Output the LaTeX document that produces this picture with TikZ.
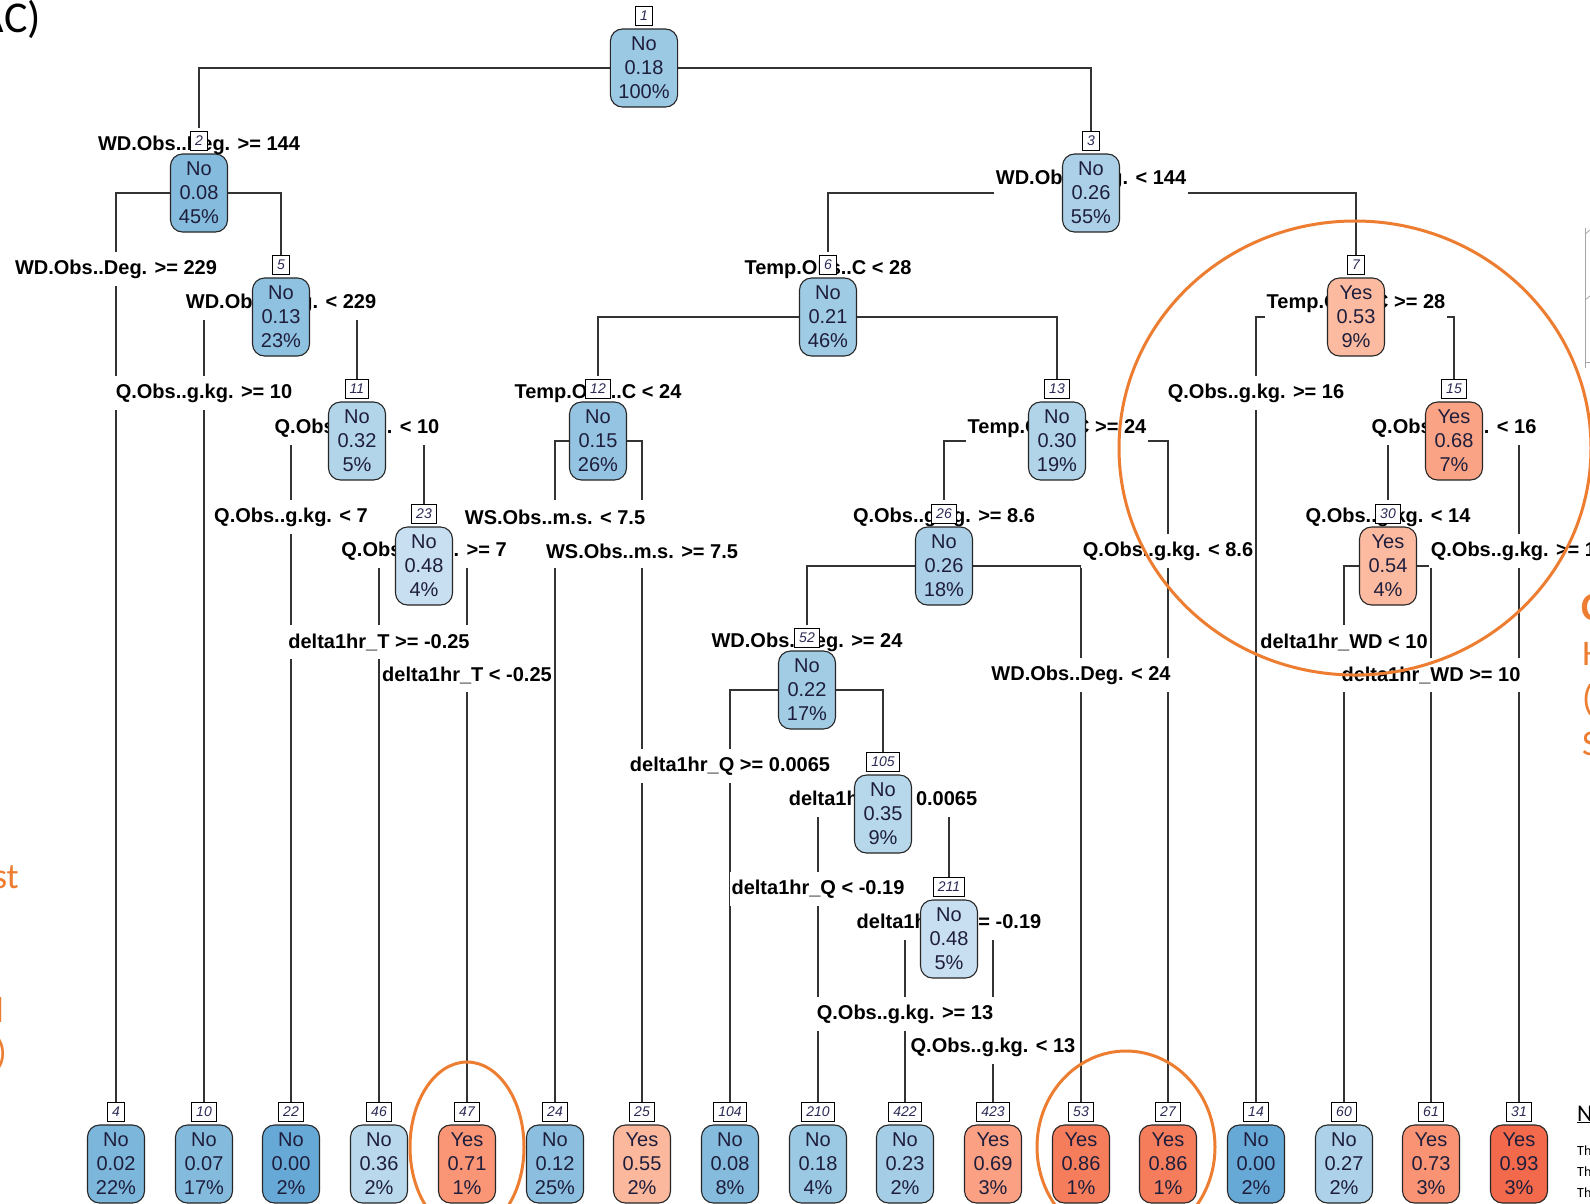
\documentclass[tikz,border=0pt]{standalone}
\usepackage{fontspec}
\setmainfont{Liberation Sans}
\newfontfamily\calib{Carlito}
\pgfdeclarelayer{bg}
\pgfdeclarelayer{edges}
\pgfdeclarelayer{labels}
\pgfdeclarelayer{top}
\pgfsetlayers{bg,edges,labels,main,top}

\definecolor{txt}{HTML}{1E1E3C}
\definecolor{numtxt}{HTML}{2A2A55}
\definecolor{ora}{HTML}{ED7D31}
\definecolor{lin}{HTML}{333333}
\definecolor{b00}{HTML}{67A9D6}
\definecolor{b02}{HTML}{7CB6DA}
\definecolor{b07}{HTML}{84BBDD}
\definecolor{b08}{HTML}{85BBDC}
\definecolor{b12}{HTML}{8CBFDF}
\definecolor{b13}{HTML}{8FC1E0}
\definecolor{b15}{HTML}{94C4E1}
\definecolor{b18}{HTML}{9BC8E2}
\definecolor{b21}{HTML}{A0CBE4}
\definecolor{b22}{HTML}{A2CCE4}
\definecolor{b23}{HTML}{A5CDE5}
\definecolor{b26}{HTML}{ABD0E7}
\definecolor{b27}{HTML}{ADD1E8}
\definecolor{b30}{HTML}{B1D4E9}
\definecolor{b32}{HTML}{B3D5E9}
\definecolor{b35}{HTML}{B7D7EB}
\definecolor{b36}{HTML}{B9D8EB}
\definecolor{b48}{HTML}{C8DFF1}
\definecolor{o53}{HTML}{FCBBA1}
\definecolor{o55}{HTML}{FBB89D}
\definecolor{o68}{HTML}{FBA385}
\definecolor{o69}{HTML}{FBA082}
\definecolor{o71}{HTML}{FA9676}
\definecolor{o73}{HTML}{FA9373}
\definecolor{o86}{HTML}{F57D5C}
\definecolor{o93}{HTML}{F2694B}

\tikzset{
 tbox/.style={draw=black!85, line width=1.1pt, rounded corners=12pt, minimum width=57pt, minimum height=78pt, inner xsep=8pt, inner ysep=0pt, align=center, text=txt, font=\fontsize{20}{24}\selectfont},
 numbox/.style={draw=black, fill=white, line width=0.9pt, minimum height=19pt, minimum width=17pt, inner xsep=4.5pt, inner ysep=0pt, text=numtxt, font=\fontsize{14}{14}\selectfont\itshape},
 slab/.style={fill=white, inner xsep=1.5pt, inner ysep=0pt, minimum height=34pt, text=black, font=\fontsize{20}{24}\selectfont\bfseries},
 conn/.style={draw=lin, line width=1.3pt},
 ring/.style={draw=ora, line width=3pt},
 frag/.style={inner sep=0pt, text=ora},
}

\newcommand\TN[7]{%
 \node[tbox,fill=#4] (n#1) at (#2,#3) {#5\\#6\\#7};
 \node[numbox,anchor=south] (tn#1) at ([yshift=3pt]n#1.north) {#1};}
\newcommand\SL[4]{\node[slab] (s#1) at (#2,#3+2) {#4};}

\begin{document}
\begin{tikzpicture}[x=1pt,y=-1pt]
\useasboundingbox (0,0) rectangle (1590,1203);
\begin{pgfonlayer}{bg}
\fill[white] (0,0) rectangle (1590,1203);
\end{pgfonlayer}

% internal nodes
\TN{1}{644}{68}{b18}{No}{0.18}{100\%}
\TN{2}{199}{193}{b08}{No}{0.08}{45\%}
\TN{3}{1091}{193}{b26}{No}{0.26}{55\%}
\TN{5}{281}{317}{b13}{No}{0.13}{23\%}
\TN{6}{828}{317}{b21}{No}{0.21}{46\%}
\TN{7}{1356}{317}{o53}{Yes}{0.53}{9\%}
\TN{11}{357}{441}{b32}{No}{0.32}{5\%}
\TN{12}{598}{441}{b15}{No}{0.15}{26\%}
\TN{13}{1057}{441}{b30}{No}{0.30}{19\%}
\TN{15}{1454}{441}{o68}{Yes}{0.68}{7\%}
\TN{23}{424}{566}{b48}{No}{0.48}{4\%}
\TN{26}{944}{566}{b26}{No}{0.26}{18\%}
\TN{30}{1388}{566}{o53}{Yes}{0.54}{4\%}
\TN{52}{807}{690}{b22}{No}{0.22}{17\%}
\TN{105}{883}{814}{b35}{No}{0.35}{9\%}
\TN{211}{949}{939}{b48}{No}{0.48}{5\%}

% leaves
\TN{4}{116}{1164}{b02}{No}{0.02}{22\%}
\TN{10}{204}{1164}{b07}{No}{0.07}{17\%}
\TN{22}{291}{1164}{b00}{No}{0.00}{2\%}
\TN{46}{379}{1164}{b36}{No}{0.36}{2\%}
\TN{47}{467}{1164}{o71}{Yes}{0.71}{1\%}
\TN{24}{555}{1164}{b12}{No}{0.12}{25\%}
\TN{25}{642}{1164}{o55}{Yes}{0.55}{2\%}
\TN{104}{730}{1164}{b08}{No}{0.08}{8\%}
\TN{210}{818}{1164}{b18}{No}{0.18}{4\%}
\TN{422}{905}{1164}{b23}{No}{0.23}{2\%}
\TN{423}{993}{1164}{o69}{Yes}{0.69}{3\%}
\TN{53}{1081}{1164}{o86}{Yes}{0.86}{1\%}
\TN{27}{1168}{1164}{o86}{Yes}{0.86}{1\%}
\TN{14}{1256}{1164}{b00}{No}{0.00}{2\%}
\TN{60}{1344}{1164}{b27}{No}{0.27}{2\%}
\TN{61}{1431}{1164}{o73}{Yes}{0.73}{3\%}
\TN{31}{1519}{1164}{o93}{Yes}{0.93}{3\%}

\begin{pgfonlayer}{edges}
\foreach \p/\c in {1/2,1/3,2/4,2/5,5/10,5/11,11/22,11/23,23/46,23/47,3/6,3/7,6/12,6/13,12/24,12/25,13/26,13/27,26/52,26/53,52/104,52/105,105/210,105/211,211/422,211/423,7/14,7/15,15/30,15/31,30/60,30/61}
  \draw[conn] (n\p.center) -| (tn\c.north);
\end{pgfonlayer}

\begin{pgfonlayer}{labels}
\SL{2}{199}{143}{WD.Obs..Deg. >= 144}
\SL{3}{1091}{177}{WD.Obs..Deg. < 144}
\SL{4}{116}{267}{WD.Obs..Deg. >= 229}
\SL{5}{281}{301}{WD.Obs..Deg. < 229}
\SL{10}{204}{391}{Q.Obs..g.kg. >= 10}
\SL{11}{357}{426}{Q.Obs..g.kg. < 10}
\SL{22}{291}{515}{Q.Obs..g.kg. < 7}
\SL{23}{424}{549}{Q.Obs..g.kg. >= 7}
\SL{46}{379}{640}{delta1hr\_T >= -0.25}
\SL{47}{467}{673}{delta1hr\_T < -0.25}
\SL{6}{828}{267}{Temp.Obs..C < 28}
\SL{7}{1356}{301}{Temp.Obs..C >= 28}
\SL{12}{598}{391}{Temp.Obs..C < 24}
\SL{13}{1057}{426}{Temp.Obs..C >= 24}
\SL{24}{555}{515}{WS.Obs..m.s. < 7.5}
\SL{25}{642}{549}{WS.Obs..m.s. >= 7.5}
\SL{26}{944}{515}{Q.Obs..g.kg. >= 8.6}
\SL{27}{1168}{549}{Q.Obs..g.kg. < 8.6}
\SL{52}{807}{640}{WD.Obs..Deg. >= 24}
\SL{53}{1081}{673}{WD.Obs..Deg. < 24}
\SL{104}{730}{764}{delta1hr\_Q >= 0.0065}
\SL{105}{883}{798}{delta1hr\_Q < 0.0065}
\SL{210}{818}{887}{delta1hr\_Q < -0.19}
\SL{211}{949}{921}{delta1hr\_Q >= -0.19}
\SL{422}{905}{1012}{Q.Obs..g.kg. >= 13}
\SL{423}{993}{1045}{Q.Obs..g.kg. < 13}
\SL{14}{1256}{391}{Q.Obs..g.kg. >= 16}
\SL{15}{1454}{426}{Q.Obs..g.kg. < 16}
\SL{30}{1388}{515}{Q.Obs..g.kg. < 14}
\SL{31}{1519}{549}{Q.Obs..g.kg. >= 14}
\SL{60}{1344}{640}{delta1hr\_WD < 10}
\SL{61}{1431}{673}{delta1hr\_WD >= 10}
\end{pgfonlayer}

\begin{pgfonlayer}{top}
\draw[ring] (1355,448) ellipse [x radius=236pt, y radius=227pt];
\draw[ring] (467,1147) ellipse [x radius=57pt, y radius=85pt];
\draw[ring] (1126,1147) ellipse [x radius=89pt, y radius=96pt];
% cut-off fragments at the edges
\node[inner sep=0pt, anchor=base east, font=\calib\fontsize{44}{44}\selectfont] (fc) at (41,32) {AC)};
\node[frag, anchor=base east, font=\calib\fontsize{36}{36}\selectfont] (f1) at (19,888) {st};
\node[frag, anchor=base east, font=\calib\fontsize{36}{36}\selectfont] (f2) at (4,1022) {l};
\node[frag, anchor=base east, font=\calib\fontsize{36}{36}\selectfont] (f3) at (7,1064) {)};
\node[frag, anchor=base west, font=\calib\bfseries\fontsize{40}{40}\selectfont] (f4) at (1581,620) {C};
\node[frag, anchor=base west, font=\calib\fontsize{36}{36}\selectfont] (f5) at (1582,665) {H};
\node[frag, anchor=base west, font=\calib\fontsize{36}{36}\selectfont] (f6) at (1582,710) {(};
\node[frag, anchor=base west, font=\calib\fontsize{36}{36}\selectfont] (f7) at (1582,755) {S};
\node[inner sep=0pt, anchor=base west, font=\calib\fontsize{24}{24}\selectfont] (f8) at (1577,1121) {\underline{N}};
\node[inner sep=0pt, anchor=base west, font=\calib\fontsize{14}{14}\selectfont] (f9) at (1577,1155) {Th};
\node[inner sep=0pt, anchor=base west, font=\calib\fontsize{14}{14}\selectfont] (f10) at (1577,1176) {Th};
\node[inner sep=0pt, anchor=base west, font=\calib\fontsize{14}{14}\selectfont] (f11) at (1577,1197) {Th};
\draw[gray!70, line width=0.8pt] (1585,228) -- (1585,368);
\draw[gray!70, line width=0.8pt] (1585,234) -- (1590,230);
\draw[gray!70, line width=0.8pt] (1585,300) -- (1590,296);
\draw[gray!70, line width=0.8pt] (1585,362) -- (1590,362);
\end{pgfonlayer}
\end{tikzpicture}
\end{document}
